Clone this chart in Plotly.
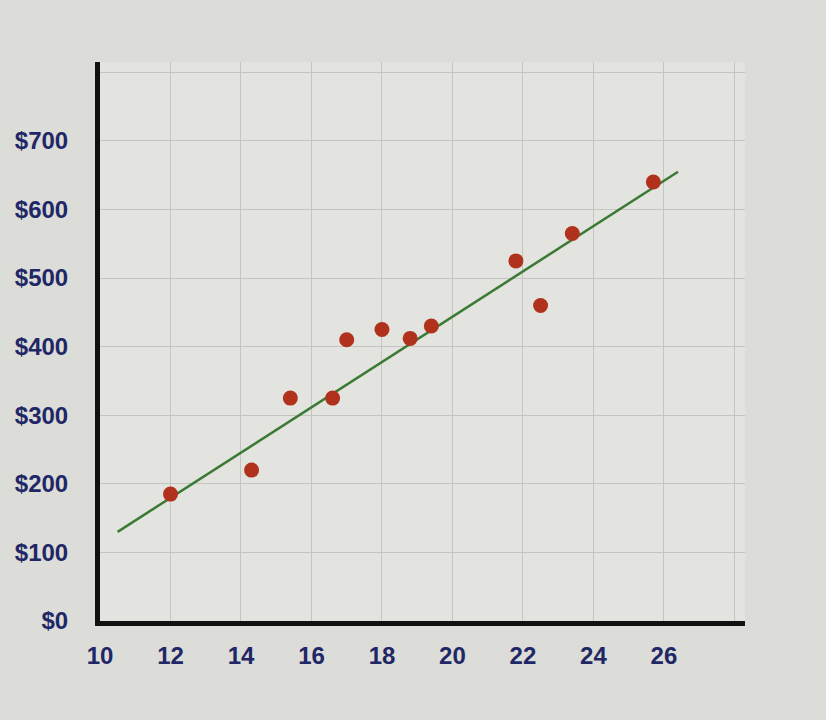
import plotly.graph_objects as go

x_vals = [12.0, 14.3, 15.4, 16.6, 17.0, 18.0, 18.8, 19.4, 21.8, 22.5, 23.4, 25.7]
y_vals = [185, 220, 325, 325, 410, 425, 412, 430, 525, 460, 565, 640]
trend_x = [10.5, 26.4]
trend_y = [130, 655]
x_ticks = [10, 12, 14, 16, 18, 20, 22, 24, 26, 28]
x_tick_text = ["10", "12", "14", "16", "18", "20", "22", "24", "26", ""]
y_ticks = [0, 100, 200, 300, 400, 500, 600, 700, 800]
y_tick_text = ["$0", "$100", "$200", "$300", "$400", "$500", "$600", "$700", ""]

fig = go.Figure()
fig.add_trace(go.Scatter(x=trend_x, y=trend_y, mode="lines",
                         line=dict(color="#3b7a34", width=2.5), showlegend=False))
fig.add_trace(go.Scatter(x=x_vals, y=y_vals, mode="markers",
                         marker=dict(color="#b0321c", size=15, symbol="circle",
                                     line=dict(width=0)), showlegend=False))

font_col = "#1f2766"
fig.update_layout(
    width=826, height=720,
    paper_bgcolor="#dcdcd8", plot_bgcolor="#e3e3df",
    margin=dict(l=100, r=81, t=62, b=99),
    font=dict(family="Liberation Sans, Arial", color=font_col),
    xaxis=dict(range=[10, 28.3], tickvals=x_ticks, ticktext=x_tick_text,
               showgrid=True, gridcolor="#c4c4c0", gridwidth=1,
               showline=True, linecolor="#111111", linewidth=5,
               zeroline=False, ticks="", ticklabelstandoff=9,
               tickfont=dict(size=24, color=font_col, weight="bold"),
               fixedrange=True),
    yaxis=dict(range=[0, 815], tickvals=y_ticks, ticktext=y_tick_text,
               showgrid=True, gridcolor="#c4c4c0", gridwidth=1,
               showline=True, linecolor="#111111", linewidth=5,
               zeroline=False, ticks="", ticklabelstandoff=22,
               tickfont=dict(size=24, color=font_col, weight="bold"),
               fixedrange=True),
)
fig.write_html("out.html", config={"displayModeBar": False},
               post_script="document.body.style.margin='0';document.body.style.background='#dcdcd8';")
